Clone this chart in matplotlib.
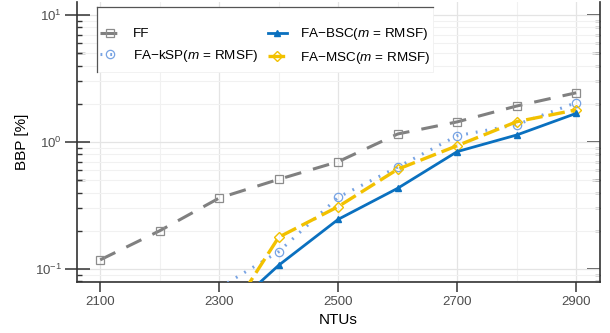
import numpy as np
import matplotlib
matplotlib.use("Agg")
import matplotlib.pyplot as plt
from matplotlib.ticker import LogLocator, MultipleLocator, FixedLocator, NullFormatter
from matplotlib.lines import Line2D
from matplotlib.patches import Rectangle

plt.rcParams['font.family'] = ['Liberation Sans', 'DejaVu Sans']
plt.rcParams['mathtext.fontset'] = 'custom'
plt.rcParams['mathtext.rm'] = 'Liberation Sans'
plt.rcParams['mathtext.it'] = 'Liberation Sans:italic'

# ---- data ----
ntus = [2100, 2200, 2300, 2400, 2500, 2600, 2700, 2800, 2900]
ntus_fa = [2300, 2400, 2500, 2600, 2700, 2800, 2900]
bbp_ff = [0.118, 0.20, 0.362, 0.508, 0.70, 1.156, 1.44, 1.92, 2.44]
bbp_ksp = [0.071, 0.137, 0.367, 0.635, 1.12, 1.37, 2.04]
bbp_bsc = [0.040, 0.107, 0.246, 0.432, 0.84, 1.135, 1.68]
bbp_msc = [0.033, 0.178, 0.31, 0.61, 0.935, 1.445, 1.79]
labels = ['FF', 'FA\u2212kSP($m$ = RMSF)', 'FA\u2212BSC($m$ = RMSF)', 'FA\u2212MSC($m$ = RMSF)']
xticks = [2100, 2300, 2500, 2700, 2900]

W, H = 610, 333
fig = plt.figure(figsize=(W / 100, H / 100), dpi=100)
AX_L, AX_R, AX_T, AX_B = 77, 600, 2, 282
ax = fig.add_axes([AX_L / W, (H - AX_B) / H, (AX_R - AX_L) / W, (AX_B - AX_T) / H])

def axfrac(px, py):
    return (px - AX_L) / (AX_R - AX_L), (AX_B - py) / (AX_B - AX_T)

grey = '#808080'
lblue = '#77a3e3'
blue = '#0a70bf'
yellow = '#f2c100'

h_ff, = ax.plot(ntus, bbp_ff, color=grey, lw=2.2, dashes=(5.5, 4.0), marker='s', ms=6,
                mfc='none', mec='#8c8c8c', mew=0.9, label=labels[0], zorder=3)
h_ksp, = ax.plot(ntus_fa, bbp_ksp, color=lblue, lw=2.2, dashes=(0.6, 2.6), marker='o', ms=6,
                 mfc='none', mec=lblue, mew=0.9, label=labels[1], zorder=4)
h_bsc, = ax.plot(ntus_fa, bbp_bsc, color=blue, lw=2.0, marker='^', ms=4.5,
                 mfc=blue, mec=blue, label=labels[2], zorder=5)
h_msc, = ax.plot(ntus_fa, bbp_msc, color=yellow, lw=2.4, dashes=(5.0, 1.8), marker='D', ms=5.5,
                 mfc='none', mec=yellow, mew=1.0, label=labels[3], zorder=4)

ax.set_yscale('log')
ax.set_xlim(2061, 2940)
ax.set_ylim(0.079, 12.65)

ax.xaxis.set_major_locator(FixedLocator(xticks))
ax.xaxis.set_minor_locator(MultipleLocator(100))
ax.yaxis.set_major_locator(LogLocator(base=10, numticks=10))
ax.yaxis.set_minor_locator(LogLocator(base=10, subs=np.arange(2, 10), numticks=20))
ax.yaxis.set_minor_formatter(NullFormatter())

ax.grid(which='major', color='#e4e4e4', lw=0.9, zorder=0)
ax.grid(which='minor', color='#f1f1f1', lw=0.8, zorder=0)
ax.set_axisbelow(True)

spc = '#333333'
for s in ['left', 'bottom', 'right']:
    ax.spines[s].set_color(spc)
    ax.spines[s].set_linewidth(1.2)
ax.spines['top'].set_visible(False)

ax.tick_params(axis='x', which='major', direction='out', length=7, width=1.1, color=spc,
               labelsize=9.5, labelcolor='#4d4d4d', pad=3)
ax.tick_params(axis='x', which='minor', length=0)
ax.tick_params(axis='y', which='major', direction='inout', length=18, width=1.1, color=spc,
               labelsize=9.5, labelcolor='#4d4d4d', pad=2, left=True, right=False)
ax.tick_params(axis='y', which='minor', direction='in', length=3.6, width=1.0, color=spc,
               left=True, right=False)

# right side ticks (inward)
sec_r = ax.secondary_yaxis('right')
sec_r.spines['right'].set_visible(False)
sec_r.yaxis.set_major_locator(LogLocator(base=10, numticks=10))
sec_r.yaxis.set_minor_locator(LogLocator(base=10, subs=np.arange(2, 10), numticks=20))
sec_r.tick_params(which='major', direction='in', length=9.5, width=1.1, color=spc, labelright=False)
sec_r.tick_params(which='minor', direction='in', length=3.6, width=1.0, color=spc)
sec_r.yaxis.set_minor_formatter(NullFormatter())

# longer ticks at the 5s
for side in ['left', 'right']:
    s5 = ax.secondary_yaxis(side)
    s5.spines[side].set_visible(False)
    s5.yaxis.set_major_locator(LogLocator(base=10, subs=(5.0,), numticks=10))
    s5.yaxis.set_minor_locator(FixedLocator([]))
    s5.tick_params(which='major', direction='in', length=5.8, width=1.0, color=spc,
                   labelleft=False, labelright=False)

ax.set_xlabel('NTUs', fontsize=11, labelpad=4)
ax.set_ylabel('BBP [%]', fontsize=11, labelpad=4)

# legend background box with partial frame
bx0, by1 = axfrac(97, 72)
bx1, by0 = axfrac(433, 7)
ax.add_patch(Rectangle((bx0, by1), bx1 - bx0, by0 - by1, transform=ax.transAxes,
                       facecolor='white', edgecolor='#f0f0f0', lw=0.6, zorder=6))
ax.add_line(Line2D([bx0, bx0], [by1, by0], transform=ax.transAxes, color='#555555', lw=0.9, zorder=7))
ax.add_line(Line2D([bx0, bx1], [by0, by0], transform=ax.transAxes, color='#555555', lw=0.9, zorder=7))

lx, ly = axfrac(99, 25)
leg = ax.legend(handles=[h_ff, h_ksp, h_bsc, h_msc], ncol=2, loc='upper left',
                bbox_to_anchor=(lx, ly), fontsize=9.7, handlelength=1.4,
                handletextpad=1.0, columnspacing=0.75, labelspacing=0.55,
                borderpad=0.1, borderaxespad=0, frameon=False)
leg.set_zorder(8)

fig.savefig('out.png', dpi=100)
